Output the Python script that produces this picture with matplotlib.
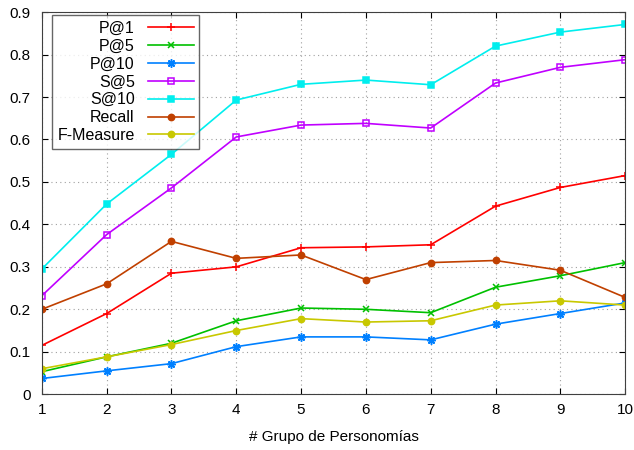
import matplotlib
matplotlib.use('Agg')
import matplotlib.pyplot as plt
import numpy as np

plt.rcParams['font.family'] = ['Liberation Sans', 'DejaVu Sans']

grupos = [1, 2, 3, 4, 5, 6, 7, 8, 9, 10]

p1 = [0.115, 0.19, 0.285, 0.300, 0.345, 0.347, 0.352, 0.443, 0.487, 0.515]
p5 = [0.053, 0.088, 0.120, 0.173, 0.203, 0.200, 0.192, 0.252, 0.279, 0.310]
p10 = [0.037, 0.055, 0.072, 0.112, 0.135, 0.135, 0.128, 0.165, 0.190, 0.215]
s5 = [0.232, 0.376, 0.486, 0.606, 0.634, 0.638, 0.627, 0.733, 0.770, 0.788]
s10 = [0.295, 0.448, 0.565, 0.693, 0.730, 0.740, 0.729, 0.820, 0.853, 0.871]
recall = [0.200, 0.260, 0.360, 0.320, 0.328, 0.270, 0.310, 0.315, 0.292, 0.228]
fmeasure = [0.060, 0.088, 0.117, 0.150, 0.178, 0.170, 0.173, 0.210, 0.220, 0.210]

# name, values, colour, marker, fill, size
series = [
    ('P@1', p1, '#ff0000', '+', 'full', 6),
    ('P@5', p5, '#00c000', 'x', 'full', 5),
    ('P@10', p10, '#0080ff', (8, 2, 0), 'full', 6),
    ('S@5', s5, '#c000ff', 's', 'none', 5),
    ('S@10', s10, '#00eeee', 's', 'full', 5),
    ('Recall', recall, '#c04000', 'o', 'full', 4.5),
    ('F-Measure', fmeasure, '#c8c800', 'o', 'full', 4.5),
]

fig = plt.figure(figsize=(6.34, 4.5), dpi=100)
ax = fig.add_axes([0.066, 0.124, 0.92, 0.849])

for name, vals, col, mk, fill, ms in series:
    ax.plot(grupos, vals, color=col, marker=mk, markersize=ms, linewidth=1.2,
            fillstyle=fill, markeredgewidth=1.1, label=name)

ax.set_xlim(1, 10)
ax.set_ylim(0, 0.9)
ax.set_xticks(grupos)
ax.set_yticks(np.arange(0, 0.91, 0.1))
ax.set_yticklabels(['0', '0.1', '0.2', '0.3', '0.4', '0.5', '0.6', '0.7', '0.8', '0.9'])
ax.tick_params(direction='in', top=True, right=True, labelsize=11, length=4, pad=6)
ax.tick_params(axis='y', pad=8)
ax.grid(True, color='#a0a0a0', linestyle=(0, (1, 3)), linewidth=0.8)
for sp in ax.spines.values():
    sp.set_color('#404040')
ax.set_xlabel('# Grupo de Personomías', fontsize=11, labelpad=10)

leg = ax.legend(loc='upper left', bbox_to_anchor=(0.017, 0.992), markerfirst=False,
                fontsize=11.5, frameon=True, fancybox=False, handlelength=2.9,
                labelspacing=0.18, borderpad=0.35, handletextpad=0.8,
                borderaxespad=0)
leg.get_frame().set_edgecolor('#404040')
leg.get_frame().set_linewidth(1.0)
for t in leg.get_texts():
    t.set_ha('right')
leg._legend_box.align = 'right'

fig.savefig('out.png', dpi=100)
